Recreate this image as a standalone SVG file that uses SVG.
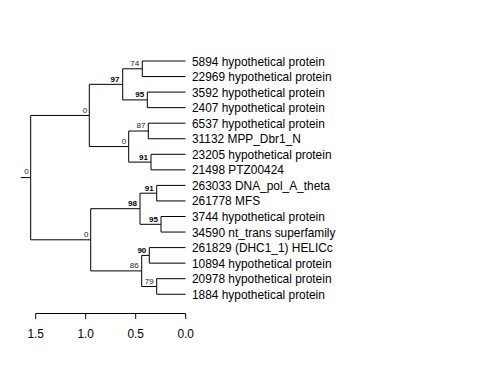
<svg xmlns="http://www.w3.org/2000/svg" width="480" height="384" viewBox="0 0 480 384">
<style>
.e{fill:none;stroke:#000;stroke-width:1}
.tip{font-family:"Liberation Sans",Arial,sans-serif;font-size:11.9px;fill:#000}
.nl{font-family:"Liberation Sans",Arial,sans-serif;font-size:8px;fill:#222;text-anchor:end}
.b{font-weight:bold;fill:#000}
.ax{font-family:"Liberation Sans",Arial,sans-serif;font-size:11.9px;fill:#000;text-anchor:middle}
</style>
<rect width="480" height="384" fill="#fff"/>
<g id="connectors">
<path class="e" d="M20.7 177.6H30.7"/>
<path class="e" d="M30.7 177.6V115.45H89.3"/>
<path class="e" d="M30.7 177.6V239.8H90.7"/>
<path class="e" d="M89.3 115.45V84.35H122.7"/>
<path class="e" d="M89.3 115.45V146.55H128.7"/>
<path class="e" d="M122.7 84.35V68.8H142.3"/>
<path class="e" d="M122.7 84.35V99.9H147.3"/>
<path class="e" d="M142.3 68.8V61H185.5"/>
<path class="e" d="M142.3 68.8V76.55H185.5"/>
<path class="e" d="M147.3 99.9V92.1H185.5"/>
<path class="e" d="M147.3 99.9V107.65H185.5"/>
<path class="e" d="M128.7 146.55V131H148.3"/>
<path class="e" d="M128.7 146.55V162.1H151"/>
<path class="e" d="M148.3 131V123.2H185.5"/>
<path class="e" d="M148.3 131V138.75H185.5"/>
<path class="e" d="M151 162.1V154.3H185.5"/>
<path class="e" d="M151 162.1V169.85H185.5"/>
<path class="e" d="M90.7 239.8V208.7H140"/>
<path class="e" d="M90.7 239.8V270.9H141.7"/>
<path class="e" d="M140 208.7V193.2H156.7"/>
<path class="e" d="M140 208.7V224.3H161"/>
<path class="e" d="M156.7 193.2V185.4H185.5"/>
<path class="e" d="M156.7 193.2V200.95H185.5"/>
<path class="e" d="M161 224.3V216.5H185.5"/>
<path class="e" d="M161 224.3V232.05H185.5"/>
<path class="e" d="M141.7 270.9V255.4H149.3"/>
<path class="e" d="M141.7 270.9V286.5H156.7"/>
<path class="e" d="M149.3 255.4V247.6H185.5"/>
<path class="e" d="M149.3 255.4V263.15H185.5"/>
<path class="e" d="M156.7 286.5V278.7H185.5"/>
<path class="e" d="M156.7 286.5V294.25H185.5"/>
</g>
<g id="tips">
<g id="t1"><text class="tip" x="192" y="65.5">5894 hypothetical protein</text></g>
<g id="t2"><text class="tip" x="192" y="81">22969 hypothetical protein</text></g>
<g id="t3"><text class="tip" x="192" y="96.6">3592 hypothetical protein</text></g>
<g id="t4"><text class="tip" x="192" y="112.1">2407 hypothetical protein</text></g>
<g id="t5"><text class="tip" x="192" y="127.7">6537 hypothetical protein</text></g>
<g id="t6"><text class="tip" x="192" y="143.2">31132 MPP_Dbr1_N</text></g>
<g id="t7"><text class="tip" x="192" y="158.8">23205 hypothetical protein</text></g>
<g id="t8"><text class="tip" x="192" y="174.3">21498 PTZ00424</text></g>
<g id="t9"><text class="tip" x="192" y="189.9">263033 DNA_pol_A_theta</text></g>
<g id="t10"><text class="tip" x="192" y="205.4">261778 MFS</text></g>
<g id="t11"><text class="tip" x="192" y="221">3744 hypothetical protein</text></g>
<g id="t12"><text class="tip" x="192" y="236.5">34590 nt_trans superfamily</text></g>
<g id="t13"><text class="tip" x="192" y="252.1">261829 (DHC1_1) HELICc</text></g>
<g id="t14"><text class="tip" x="192" y="267.6">10894 hypothetical protein</text></g>
<g id="t15"><text class="tip" x="192" y="283.2">20978 hypothetical protein</text></g>
<g id="t16"><text class="tip" x="192" y="298.7">1884 hypothetical protein</text></g>
</g>
<g id="nodes">
<g id="n-root"><text class="nl" x="28.7" y="174.2">0</text></g>
<g id="n-0a"><text class="nl" x="87.1" y="112.7">0</text></g>
<g id="n-97"><text class="nl b" x="119.5" y="81.8">97</text></g>
<g id="n-74"><text class="nl" x="139.2" y="66.2">74</text></g>
<g id="n-95a"><text class="nl b" x="144.2" y="97.3">95</text></g>
<g id="n-0b"><text class="nl" x="126.3" y="144">0</text></g>
<g id="n-87"><text class="nl" x="145.4" y="128.4">87</text></g>
<g id="n-91a"><text class="nl b" x="148" y="159.5">91</text></g>
<g id="n-0c"><text class="nl" x="88.5" y="237.2">0</text></g>
<g id="n-98"><text class="nl b" x="137" y="206.1">98</text></g>
<g id="n-91b"><text class="nl b" x="153.7" y="190.6">91</text></g>
<g id="n-95b"><text class="nl b" x="158" y="221.7">95</text></g>
<g id="n-86"><text class="nl" x="138.7" y="268.3">86</text></g>
<g id="n-90"><text class="nl b" x="146.3" y="252.8">90</text></g>
<g id="n-79"><text class="nl" x="153.7" y="283.9">79</text></g>
</g>
<g id="axis">
<path class="e" d="M35.7 313.5H185.7M35.7 313.5V319M85.7 313.5V319M135.7 313.5V319M185.7 313.5V319"/>
<text class="ax" x="35.7" y="338">1.5</text>
<text class="ax" x="85.7" y="338">1.0</text>
<text class="ax" x="135.7" y="338">0.5</text>
<text class="ax" x="185.7" y="338">0.0</text>
</g>
</svg>
